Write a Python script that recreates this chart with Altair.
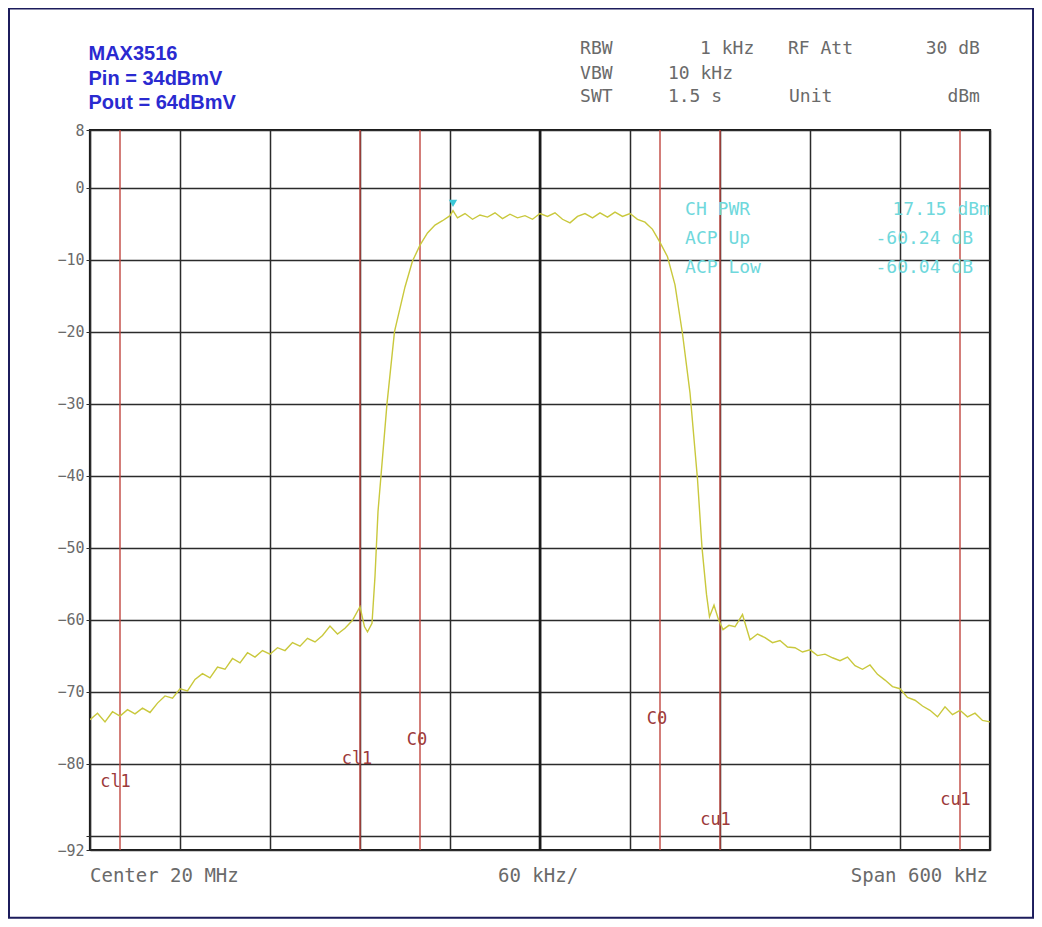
import altair as alt
import pandas as pd

# ---------------- data ----------------
freq_khz = [-300, -295, -290, -285, -280, -275, -270, -265, -260, -255, -250, -245,
            -240, -235, -230, -225, -220, -215, -210, -205, -200, -195, -190, -185,
            -180, -175, -170, -165, -160, -155, -150, -145, -140, -135, -130, -125,
            -120, -117, -115, -112, -110, -108, -106, -102, -97, -90, -85, -80,
            -75, -70, -65, -60, -58, -55, -50, -45, -40, -35, -30, -25, -20, -15,
            -10, -5, 0, 5, 10, 15, 20, 25, 30, 35, 40, 45, 50, 55, 60, 65,
            70, 75, 80, 85, 90, 95, 100, 105, 108, 111, 113, 116, 119, 122, 126, 130,
            135, 140, 145, 150, 155, 160, 165, 170, 175, 180, 185, 190, 195, 200,
            205, 210, 215, 220, 225, 230, 235, 240, 245, 250, 255, 260, 265, 270,
            275, 280, 285, 290, 295, 300]
level_dbm = [-73.9, -73.0, -74.2, -72.8, -73.4, -72.5, -73.1, -72.3, -72.9, -71.6, -70.6, -70.9,
             -69.6, -69.9, -68.3, -67.5, -68.1, -66.6, -66.9, -65.4, -66.0, -64.6, -65.2, -64.3,
             -64.8, -63.9, -64.3, -63.2, -63.7, -62.6, -63.1, -62.2, -60.9, -62.0, -61.2, -60.1,
             -58.2, -61.0, -61.7, -60.5, -54.0, -45.0, -40.0, -30.0, -20.0, -13.8, -10.2, -8.0,
             -6.3, -5.2, -4.6, -3.9, -3.2, -4.2, -3.6, -4.4, -3.8, -4.1, -3.5, -4.3, -3.7, -4.2,
             -3.9, -4.4, -3.6, -4.0, -3.5, -4.4, -4.9, -4.0, -3.6, -4.2, -3.5, -4.1, -3.4, -4.0, -3.6, -4.4,
             -4.8, -5.8, -7.6, -9.6, -13.5, -20.3, -28.5, -40.5, -50.0, -56.5, -59.6, -58.0, -60.0, -61.4, -60.8, -61.0,
             -59.3, -62.8, -62.0, -62.5, -63.2, -62.9, -63.8, -63.9, -64.5, -64.2, -65.0, -64.8, -65.3, -65.7,
             -65.2, -66.4, -66.9, -66.3, -67.6, -68.4, -69.3, -69.6, -70.8, -71.2, -72.0, -72.6, -73.5, -72.1,
             -73.2, -72.6, -73.5, -73.0, -74.0, -74.2]

marker_freq = [-58]
marker_level = [-2.2]

channel_edges_khz = [-280, -120, -80, 80, 120, 280]
center_line_khz = [0]

x_grid_khz = [-300, -240, -180, -120, -60, 0, 60, 120, 180, 240, 300]
y_ticks_db = [8, 0, -10, -20, -30, -40, -50, -60, -70, -80, -90, -92]

# annotation texts
header_texts = ["MAX3516", "Pin = 34dBmV", "Pout = 64dBmV"]
header_f = [-301, -301, -301]
header_v = [18.6, 15.1, 11.8]

setting_texts = ["RBW", "1 kHz", "RF Att", "30 dB", "VBW", "10 kHz", "SWT", "1.5 s", "Unit", "dBm"]
setting_f = [26.7, 106.7, 165.3, 293.3, 26.7, 85.3, 26.7, 85.3, 166.0, 293.3]
setting_v = [19.2, 19.2, 19.2, 19.2, 15.8, 15.8, 12.6, 12.6, 12.6, 12.6]
setting_align = ["left", "left", "left", "right", "left", "left", "left", "left", "left", "right"]

meas_texts = ["CH PWR", "ACP Up", "ACP Low"]
meas_values = ["17.15 dBm", "-60.24 dB", "-60.04 dB"]
meas_label_f = [96.7, 96.7, 96.7]
meas_value_f = [300.0, 288.7, 288.7]
meas_v = [-3.1, -7.1, -11.1]

chan_texts = ["cl1", "cl1", "C0", "C0", "cu1", "cu1"]
chan_f = [-283, -122, -82, 78, 117, 277]
chan_v = [-82.5, -79.4, -76.7, -73.8, -87.8, -85.0]

footer_texts = ["Center 20 MHz", "60 kHz/", "Span 600 kHz"]
footer_f = [-300, -1.3, 298.7]
footer_v = [-95.6, -95.6, -95.6]
footer_align = ["left", "center", "right"]

frame_f = [-354]
frame_f2 = [328.7]
frame_v = [24.86]
frame_v2 = [-101.4]

# ---------------- chart ----------------
MONO = "DejaVu Sans Mono"
xscale = alt.Scale(domain=[-300, 300], nice=False, zero=False)
yscale = alt.Scale(domain=[-92, 8], nice=False, zero=False)
xaxis = alt.Axis(values=x_grid_khz, labels=False, ticks=False, domain=False, grid=True,
                 gridColor="#2b2b2b", gridWidth=1.5, gridOpacity=1, title=None)
yaxis = alt.Axis(values=y_ticks_db, labelExpr="datum.value == -90 ? '' : datum.label",
                 grid=True, gridColor="#2b2b2b", gridWidth=1.5, gridOpacity=1,
                 domain=False, ticks=True, tickSize=4, tickColor="#2b2b2b",
                 labelFont=MONO, labelFontSize=15, labelColor="#6a6a6a", labelPadding=2,
                 title=None)


def X(field="f"):
    return alt.X(f"{field}:Q", scale=xscale, axis=xaxis)


def Y(field="v"):
    return alt.Y(f"{field}:Q", scale=yscale, axis=yaxis)


trace_df = pd.DataFrame({"f": freq_khz, "v": level_dbm})
trace = alt.Chart(trace_df).mark_line(color="#c9c83c", strokeWidth=1.4, clip=True).encode(
    x=X(), y=Y())

red_df = pd.DataFrame({"f": channel_edges_khz})
red = alt.Chart(red_df).mark_rule(color="#c0463f", strokeWidth=1.4).encode(x=X())

center_df = pd.DataFrame({"f": center_line_khz})
center = alt.Chart(center_df).mark_rule(color="#1a1a1a", strokeWidth=2.6).encode(x=X())

marker_df = pd.DataFrame({"f": marker_freq, "v": marker_level})
marker = alt.Chart(marker_df).mark_point(shape="triangle-down", filled=True, size=70,
                                         color="#3cc8d8", opacity=1).encode(x=X(), y=Y())

frame_df = pd.DataFrame({"f": frame_f, "f2": frame_f2, "v": frame_v, "v2": frame_v2})
frame = alt.Chart(frame_df).mark_rect(filled=False, stroke="#1c1c5c", strokeWidth=2).encode(
    x=X(), x2="f2:Q", y=Y(), y2="v2:Q")


def text_layer(texts, fs, vs, aligns=None, **style):
    df = pd.DataFrame({"f": fs, "v": vs, "label": texts})
    if aligns is None:
        return alt.Chart(df).mark_text(baseline="middle", **style).encode(
            x=X(), y=Y(), text="label:N")
    layers = []
    for a in sorted(set(aligns)):
        sub = df[[al == a for al in aligns]]
        layers.append(alt.Chart(sub).mark_text(baseline="middle", align=a, **style).encode(
            x=X(), y=Y(), text="label:N"))
    return alt.layer(*layers)


header = text_layer(header_texts, header_f, header_v, align="left",
                    font="Liberation Sans", fontWeight="bold", fontSize=20, color="#2a2ad0")
settings = text_layer(setting_texts, setting_f, setting_v, setting_align,
                      font=MONO, fontSize=18, color="#6a6a6a")
meas_l = text_layer(meas_texts, meas_label_f, meas_v, align="left",
                    font=MONO, fontSize=18, color="#6fd8dc")
meas_r = text_layer(meas_values, meas_value_f, meas_v, align="right",
                    font=MONO, fontSize=18, color="#6fd8dc")
chans = text_layer(chan_texts, chan_f, chan_v, align="center",
                   font=MONO, fontSize=17, color="#9c3a3a")
footer = text_layer(footer_texts, footer_f, footer_v, footer_align,
                    font=MONO, fontSize=19, color="#6a6a6a")

chart = alt.layer(
    frame, red, center, trace, marker, chans, meas_l, meas_r, header, settings, footer
).properties(
    width=900, height=720,
    padding={"left": 82, "top": 122, "right": 44, "bottom": 69},
    autosize=alt.AutoSizeParams(type="none"),
    background="white",
).configure_view(stroke="#1a1a1a", strokeWidth=2.2)

chart.save("out.html", embed_options={"renderer": "svg", "actions": False})
